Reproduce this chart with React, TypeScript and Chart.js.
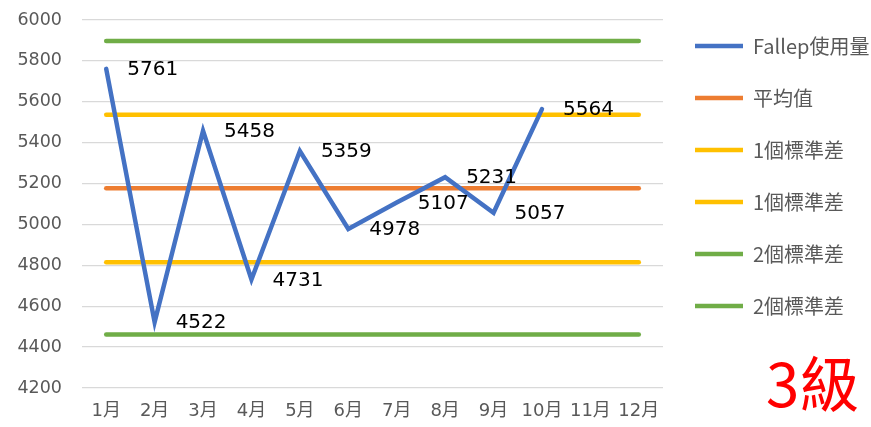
import React, { useEffect, useRef } from "react";
import { Chart, registerables } from "chart.js";

Chart.register(...registerables);

const months = ["1月", "2月", "3月", "4月", "5月", "6月", "7月", "8月", "9月", "10月", "11月", "12月"];
const usage = [5761, 4522, 5458, 4731, 5359, 4978, 5107, 5231, 5057, 5564, null, null];
const meanLine = [5177, 5177, 5177, 5177, 5177, 5177, 5177, 5177, 5177, 5177, 5177, 5177];
const sd1Upper = [5537, 5537, 5537, 5537, 5537, 5537, 5537, 5537, 5537, 5537, 5537, 5537];
const sd1Lower = [4815, 4815, 4815, 4815, 4815, 4815, 4815, 4815, 4815, 4815, 4815, 4815];
const sd2Upper = [5897, 5897, 5897, 5897, 5897, 5897, 5897, 5897, 5897, 5897, 5897, 5897];
const sd2Lower = [4462, 4462, 4462, 4462, 4462, 4462, 4462, 4462, 4462, 4462, 4462, 4462];
const seriesNames = ["Fallep使用量", "平均值", "1個標準差", "1個標準差", "2個標準差", "2個標準差"];
const gradeText = "3級";

const W = 871;
const H = 427;

const valueLabelPlugin = {
  id: "valueLabels",
  afterDatasetsDraw(chart: any) {
    const ctx = chart.ctx;
    const meta = chart.getDatasetMeta(0);
    ctx.save();
    ctx.font = "20px 'DejaVu Sans'";
    ctx.fillStyle = "#000000";
    ctx.textAlign = "left";
    ctx.textBaseline = "middle";
    meta.data.forEach((pt: any, i: number) => {
      const v = usage[i];
      if (v == null) return;
      ctx.fillText(String(v), pt.x + 21, pt.y + 1);
    });
    ctx.restore();
  },
};

const gradePlugin = {
  id: "gradeText",
  afterDraw(chart: any) {
    const ctx = chart.ctx;
    ctx.save();
    ctx.font = "60px 'Noto Sans CJK TC'";
    ctx.fillStyle = "#FF0000";
    ctx.textAlign = "left";
    ctx.textBaseline = "alphabetic";
    ctx.fillText(gradeText, 766, 407);
    ctx.restore();
  },
};

export default function App() {
  const ref = useRef<HTMLCanvasElement>(null);

  useEffect(() => {
    document.body.style.margin = "0";
    if (!ref.current) return;
    const refLine = (label: string, data: number[], color: string) => ({
      label,
      data,
      borderColor: color,
      backgroundColor: color,
      borderWidth: 4.5,
      borderCapStyle: "round",
      pointRadius: 0,
      pointHoverRadius: 0,
      tension: 0,
    });
    const chart = new Chart(ref.current, {
      type: "line",
      data: {
        labels: months,
        datasets: [
          {
            label: seriesNames[0],
            data: usage,
            borderColor: "#4472C4",
            backgroundColor: "#4472C4",
            borderWidth: 4.5,
            borderCapStyle: "round",
            borderJoinStyle: "miter",
            pointRadius: 0,
            pointHoverRadius: 0,
            tension: 0,
            spanGaps: false,
          } as any,
          refLine(seriesNames[1], meanLine, "#ED7D31") as any,
          refLine(seriesNames[2], sd1Upper, "#FFC000") as any,
          refLine(seriesNames[3], sd1Lower, "#FFC000") as any,
          refLine(seriesNames[4], sd2Upper, "#70AD47") as any,
          refLine(seriesNames[5], sd2Lower, "#70AD47") as any,
        ],
      },
      options: {
        responsive: false,
        animation: false,
        events: [],
        layout: { padding: { top: 0, left: 0, right: 0, bottom: 0 } },
        plugins: {
          tooltip: { enabled: false },
          title: {
            display: true,
            text: "",
            fullSize: false,
            padding: 0,
            font: { size: 20, lineHeight: 1 },
          },
          legend: {
            position: "right",
            align: "start",
            maxWidth: 208,
            title: { display: true, text: "", padding: 0, font: { size: 4, lineHeight: 1 } },
            labels: {
              usePointStyle: true,
              pointStyle: "line",
              pointStyleWidth: 48,
              boxWidth: 48,
              padding: 32,
              color: "#595959",
              font: { family: "'Noto Sans CJK TC'", size: 20 },
            },
          },
        },
        scales: {
          x: {
            offset: true,
            grid: { display: false, drawTicks: false },
            border: { display: false },
            ticks: {
              color: "#595959",
              padding: 13,
              maxRotation: 0,
              autoSkip: false,
              font: { family: "'DejaVu Sans', 'Noto Sans CJK TC'", size: 18 },
            },
            afterFit(scale: any) {
              scale.height = 39;
            },
          },
          y: {
            min: 4200,
            max: 6000,
            grid: { color: "#D9D9D9", lineWidth: 1.3, drawTicks: false },
            border: { display: false },
            ticks: {
              stepSize: 200,
              color: "#595959",
              padding: 20,
              font: { family: "'DejaVu Sans'", size: 17.5 },
              callback: (v: any) => String(v),
            },
            afterFit(scale: any) {
              scale.width = 82;
              scale.paddingTop = 0;
              scale.paddingBottom = 0;
            },
          },
        },
      } as any,
      plugins: [valueLabelPlugin, gradePlugin],
    });
    return () => chart.destroy();
  }, []);

  return (
    <div style={{ position: "absolute", left: 0, top: 0, width: W, height: H, background: "#ffffff" }}>
      <canvas ref={ref} width={W} height={H} style={{ width: W, height: H, display: "block" }} />
    </div>
  );
}
